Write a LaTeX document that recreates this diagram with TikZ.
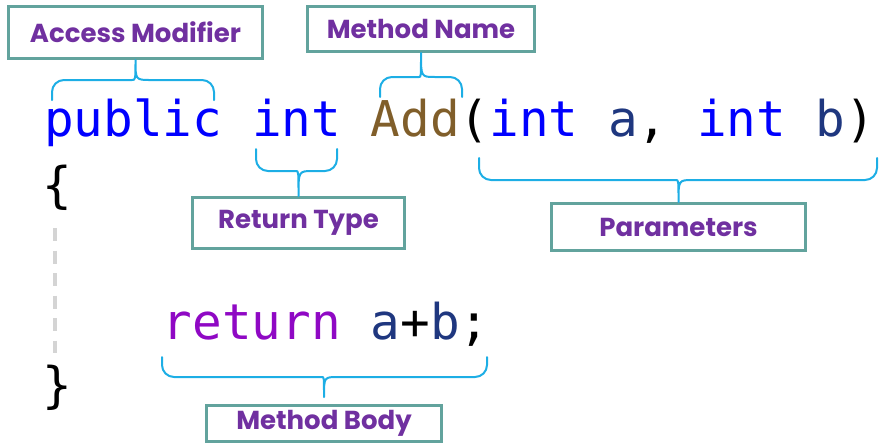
\documentclass[tikz,border=0pt]{standalone}
\usepackage{fontspec}
\newfontfamily\codefont{DejaVu Sans Mono}
\newfontfamily\labelfont{Poppins}[BoldFont={Poppins Bold}]
\definecolor{kwblue}{RGB}{0,0,255}
\definecolor{methbrown}{RGB}{128,94,42}
\definecolor{parblue}{RGB}{31,55,127}
\definecolor{retpurple}{RGB}{143,8,196}
\definecolor{boxteal}{RGB}{98,163,157}
\definecolor{bracecyan}{RGB}{29,174,229}
\definecolor{labelpurple}{RGB}{112,48,160}
\definecolor{guidegray}{RGB}{212,212,212}
\begin{document}
\begin{tikzpicture}[x=1pt,y=-1pt]
\tikzset{
  code/.style={inner sep=0pt,anchor=base west,font={\codefont\fontsize{49.3pt}{60pt}\selectfont}},
  labelbox/.style={draw=boxteal,line width=3pt,fill=white,inner sep=0pt,text=labelpurple,font={\labelfont\bfseries\fontsize{26pt}{30pt}\selectfont}},
  curly/.style={draw=bracecyan,line width=2pt,line cap=round,line join=round}
}
\useasboundingbox (0,0) rectangle (882,445);
% code
\node[code,text=kwblue] (kw_public) at (44,136) {public};
\node[code,text=kwblue] (kw_int) at (251.8,136) {int};
\node[code,text=methbrown] (id_add) at (370.5,136) {Add};
\node[code] (params) at (459.5,136) {(\textcolor{kwblue}{int} \textcolor{parblue}{a}, \textcolor{kwblue}{int} \textcolor{parblue}{b})};
\node[code] (open_brace) at (42,202) {\{};
\node[code] (close_brace) at (42,402) {\}};
\node[code] (ret_stmt) at (162.7,339) {\textcolor{retpurple}{return} \textcolor{parblue}{a}+\textcolor{parblue}{b};};
\coordinate (guide_top) at (55,228);
\coordinate (guide_end) at (55,353);
\draw[guidegray,line width=4pt,dash pattern=on 13pt off 9.5pt] (guide_top) -- (guide_end);
% labels
\node[labelbox,minimum width=254pt,minimum height=52pt] (lbl_access) at (135.5,32.5) {Access Modifier};
\node[labelbox,minimum width=227pt,minimum height=45pt] (lbl_name) at (421,29) {Method Name};
\node[labelbox,minimum width=212pt,minimum height=51pt] (lbl_return) at (298.5,223) {Return Type};
\node[labelbox,minimum width=254pt,minimum height=47pt] (lbl_params) at (678.5,227) {Parameters};
\node[labelbox,minimum width=235pt,minimum height=36pt] (lbl_body) at (324,423.5) {Method Body};
% braces
\draw[curly] (52,100) [rounded corners=12pt] |- (120,80) [sharp corners] .. controls (135.5,80) .. (lbl_access.south) .. controls (135.5,80) .. (151,80) [rounded corners=12pt] -| (214,100);
\draw[curly] (380,97) [rounded corners=12pt] |- (407,77) [sharp corners] .. controls (421,77) .. (lbl_name.south) .. controls (421,77) .. (435,77) [rounded corners=12pt] -| (462,97);
\draw[curly] (256,149) [rounded corners=12pt] |- (284,171) [sharp corners] .. controls (298.5,171) .. (lbl_return.north) .. controls (298.5,171) .. (313,171) [rounded corners=12pt] -| (337,149);
\draw[curly] (479,158) [rounded corners=12pt] |- (664,180) [sharp corners] .. controls (678.5,180) .. (lbl_params.north) .. controls (678.5,180) .. (693,180) [rounded corners=12pt] -| (877,158);
\draw[curly] (162,357) [rounded corners=12pt] |- (310,377) [sharp corners] .. controls (324,377) .. ([yshift=7pt]lbl_body.north) .. controls (324,377) .. (338,377) [rounded corners=12pt] -| (487,357);
\end{tikzpicture}
\end{document}
